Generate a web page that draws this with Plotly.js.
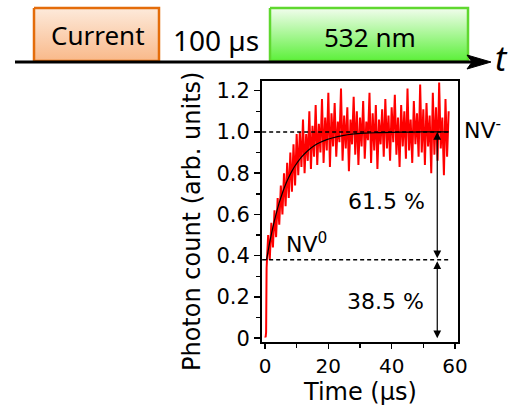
<!DOCTYPE html>
<html>
<head>
<meta charset="utf-8">
<script src="https://cdn.plot.ly/plotly-3.0.1.min.js"></script>
<style>html,body{margin:0;padding:0;background:#fff;}#chart{width:516px;height:408px;}</style>
</head>
<body>
<div id="chart"></div>
<script>
// Measured photon counts (arb. units) vs time (µs)
const timeUs = [0,0.1,0.2,0.3,0.35,
  0.5,1,1.5,2,2.5,3,3.5,4,4.5,5,5.5,6,6.5,7,7.5,8,8.5,9,9.5,10,
  10.5,11,11.5,12,12.5,13,13.5,14,14.5,15,15.5,16,16.5,17,17.5,18,18.5,19,19.5,20,
  20.5,21,21.5,22,22.5,23,23.5,24,24.5,25,25.5,26,26.5,27,27.5,28,28.5,29,29.5,30,
  30.5,31,31.5,32,32.5,33,33.5,34,34.5,35,35.5,36,36.5,37,37.5,38,38.5,39,39.5,40,
  40.5,41,41.5,42,42.5,43,43.5,44,44.5,45,45.5,46,46.5,47,47.5,48,48.5,49,49.5,50,
  50.5,51,51.5,52,52.5,53,53.5,54,54.5,55,55.5,56,56.5,57,57.5,58];
const photon = [0.01,0.025,0.005,0.02,0.03,
  0.34,0.50,0.38,0.56,0.44,0.62,0.49,0.68,0.55,0.74,0.60,0.80,0.64,0.85,0.68,0.90,0.71,0.94,0.74,0.99,
  0.79,1.00,0.83,1.06,0.80,0.99,0.86,1.10,0.82,1.03,0.88,1.13,0.84,1.04,0.90,1.16,0.85,1.07,0.91,1.19,
  0.83,1.09,0.93,1.14,0.88,1.05,0.95,1.21,0.86,1.08,0.92,1.12,0.81,1.06,0.94,1.17,0.89,1.10,0.84,1.07,
  0.93,1.15,0.87,1.05,0.96,1.19,0.85,1.09,0.91,1.13,0.82,1.06,0.94,1.11,0.88,1.16,0.92,1.08,0.86,1.12,
  0.95,1.18,0.89,1.07,0.83,1.13,0.93,1.10,0.87,1.21,0.91,1.06,0.85,1.15,0.94,1.09,0.88,1.23,0.90,1.11,
  0.84,1.14,0.93,1.08,0.80,1.19,0.89,1.12,0.86,1.24,0.92,1.07,0.79,1.16,0.88,1.10];
// Fitted curve
const fitT = [0.5,1.5,2.5,3.5,4.5,5.5,6.5,7.5,8.5,9.5,11.5,13.5,15.5,17.5,19.5,21.5,24.5,27.5,31.5,35.5,39.5,44.5,49.5,58];
const fitY = [0.38,0.466,0.539,0.602,0.657,0.704,0.745,0.780,0.810,0.836,0.878,0.909,0.933,0.950,0.963,0.972,0.982,0.989,0.994,0.9965,0.998,0.999,1.0,1.0];
// Levels
const levelNVminus = 1.0;
const levelNV0 = 0.38;
const pctTop = "61.5 %";
const pctBottom = "38.5 %";
const yTickVals = [0,0.2,0.4,0.6,0.8,1.0,1.2];
const yTickText = ["0","0.2","0.4","0.6","0.8","1.0","1.2"];
const yMinor = [0.1,0.3,0.5,0.7,0.9,1.1];
const xTickVals = [0,20,40,60];
const xMinor = [10,30,50];

const F = "DejaVu Sans, Verdana, sans-serif";
const FD = "Noto Sans, Open Sans, sans-serif";

const traces = [
  {x: timeUs, y: photon, mode: 'lines', line: {color: '#ff0000', width: 2}, xaxis: 'x', yaxis: 'y', hoverinfo: 'skip'},
  {x: fitT, y: fitY, mode: 'lines', line: {color: '#000', width: 1.2, shape: 'spline'}, xaxis: 'x', yaxis: 'y', hoverinfo: 'skip'},
  // timing diagram boxes
  {x: [34,159,159,34,34], y: [8,8,61,61,8], mode: 'lines', fill: 'toself',
   line: {color: '#e46c0a', width: 2.5},
   fillgradient: {type: 'vertical', start: 8, stop: 61, colorscale: [[0, '#fdeadb'], [1, '#f9b98a']]},
   xaxis: 'x2', yaxis: 'y2', hoverinfo: 'skip'},
  {x: [270,468,468,270,270], y: [8,8,61,61,8], mode: 'lines', fill: 'toself',
   line: {color: '#5fd82f', width: 2.5},
   fillgradient: {type: 'vertical', start: 8, stop: 61, colorscale: [[0, '#f2fdee'], [1, '#5cf03a']]},
   xaxis: 'x2', yaxis: 'y2', hoverinfo: 'skip'}
];

const layout = {
  width: 516, height: 408,
  margin: {l: 0, r: 0, t: 0, b: 0},
  paper_bgcolor: '#fff', plot_bgcolor: 'rgba(0,0,0,0)',
  showlegend: false,
  xaxis: {
    domain: [262/516, 458/516], range: [-0.95, 60.95], anchor: 'y',
    showline: true, mirror: true, linecolor: '#000', linewidth: 2,
    showgrid: false, zeroline: false,
    tickmode: 'array', tickvals: xTickVals, ticks: 'outside', ticklen: 5, tickwidth: 1.5, tickcolor: '#000',
    minor: {tickmode: 'array', tickvals: xMinor, ticks: 'outside', ticklen: 4, tickwidth: 1.5, tickcolor: '#000', showgrid: false},
    tickfont: {family: F, size: 20, color: '#000'}
  },
  yaxis: {
    domain: [(408-341.5)/408, (408-81)/408], range: [-0.016, 1.247], anchor: 'x',
    showline: true, mirror: true, linecolor: '#000', linewidth: 2,
    showgrid: false, zeroline: false,
    tickmode: 'array', tickvals: yTickVals, ticktext: yTickText, ticks: 'outside', ticklen: 6, tickwidth: 1.5, tickcolor: '#000',
    minor: {tickmode: 'array', tickvals: yMinor, ticks: 'outside', ticklen: 4, tickwidth: 1.5, tickcolor: '#000', showgrid: false},
    tickfont: {family: F, size: 21, color: '#000'}
  },
  xaxis2: {domain: [0, 1], range: [0, 516], visible: false, anchor: 'y2', fixedrange: true},
  yaxis2: {domain: [1 - 80/408, 1], range: [80, 0], visible: false, anchor: 'x2', fixedrange: true},
  shapes: [
    {type: 'line', xref: 'x', yref: 'y', x0: -0.9, x1: 58, y0: levelNVminus, y1: levelNVminus, line: {color: '#000', width: 1.5, dash: '4px,3px'}},
    {type: 'line', xref: 'x', yref: 'y', x0: -0.9, x1: 58, y0: levelNV0, y1: levelNV0, line: {color: '#000', width: 1.5, dash: '4px,3px'}},
    {type: 'line', xref: 'x2', yref: 'y2', x0: 15, x1: 478, y0: 62, y1: 62, line: {color: '#000', width: 3}},
    {type: 'path', xref: 'x2', yref: 'y2', path: 'M 467 55 L 491 62 L 467 69 L 472 62 Z', fillcolor: '#000', line: {color: '#000', width: 1}}
  ],
  annotations: [
    {xref: 'x', yref: 'y', x: 54.4, y: levelNVminus, ax: 54.4, ay: levelNV0, axref: 'x', ayref: 'y', text: '', showarrow: true, arrowhead: 2, arrowside: 'end+start', arrowsize: 1.3, arrowwidth: 1.2, arrowcolor: '#000'},
    {xref: 'x', yref: 'y', x: 54.4, y: 0, ax: 54.4, ay: levelNV0, axref: 'x', ayref: 'y', text: '', showarrow: true, arrowhead: 2, arrowside: 'end+start', arrowsize: 1.3, arrowwidth: 1.2, arrowcolor: '#000'},
    {xref: 'x', yref: 'y', x: 38.4, y: 0.665, xanchor: 'center', yanchor: 'middle', text: pctTop, showarrow: false, font: {family: F, size: 22, color: '#000'}},
    {xref: 'x', yref: 'y', x: 37.9, y: 0.176, xanchor: 'center', yanchor: 'middle', text: pctBottom, showarrow: false, font: {family: F, size: 22, color: '#000'}},
    {xref: 'x', yref: 'y', x: 6.0, y: 0.46, xanchor: 'left', yanchor: 'middle', text: 'NV<sup>0</sup>', showarrow: false, font: {family: F, size: 22, color: '#000'}},
    {xref: 'paper', yref: 'paper', x: 462/516, y: 1 - 129/408, xanchor: 'left', yanchor: 'middle', text: 'NV<sup>-</sup>', showarrow: false, font: {family: F, size: 22, color: '#000'}},
    {xref: 'paper', yref: 'paper', x: 192/516, y: 1 - 222/408, xanchor: 'center', yanchor: 'middle', text: 'Photon count (arb. units)', textangle: -90, showarrow: false, font: {family: F, size: 24, color: '#000'}},
    {xref: 'paper', yref: 'paper', x: 359.5/516, y: 1 - 392/408, xanchor: 'center', yanchor: 'middle', text: 'Time (µs)', showarrow: false, font: {family: F, size: 24, color: '#000'}},
    {xref: 'x2', yref: 'y2', x: 98, y: 35, xanchor: 'center', yanchor: 'middle', text: 'Current', showarrow: false, font: {family: FD, size: 26, color: '#000'}},
    {xref: 'x2', yref: 'y2', x: 216, y: 40, xanchor: 'center', yanchor: 'middle', text: '100 µs', showarrow: false, font: {family: FD, size: 28, color: '#000'}},
    {xref: 'x2', yref: 'y2', x: 370, y: 37, xanchor: 'center', yanchor: 'middle', text: '532 nm', showarrow: false, font: {family: FD, size: 26, color: '#000'}},
    {xref: 'x2', yref: 'y2', x: 501, y: 58, xanchor: 'center', yanchor: 'middle', text: '<i>t</i>', showarrow: false, font: {family: FD, size: 34, color: '#000'}}
  ]
};

Plotly.newPlot('chart', traces, layout, {displayModeBar: false, staticPlot: true});
</script>
</body>
</html>
